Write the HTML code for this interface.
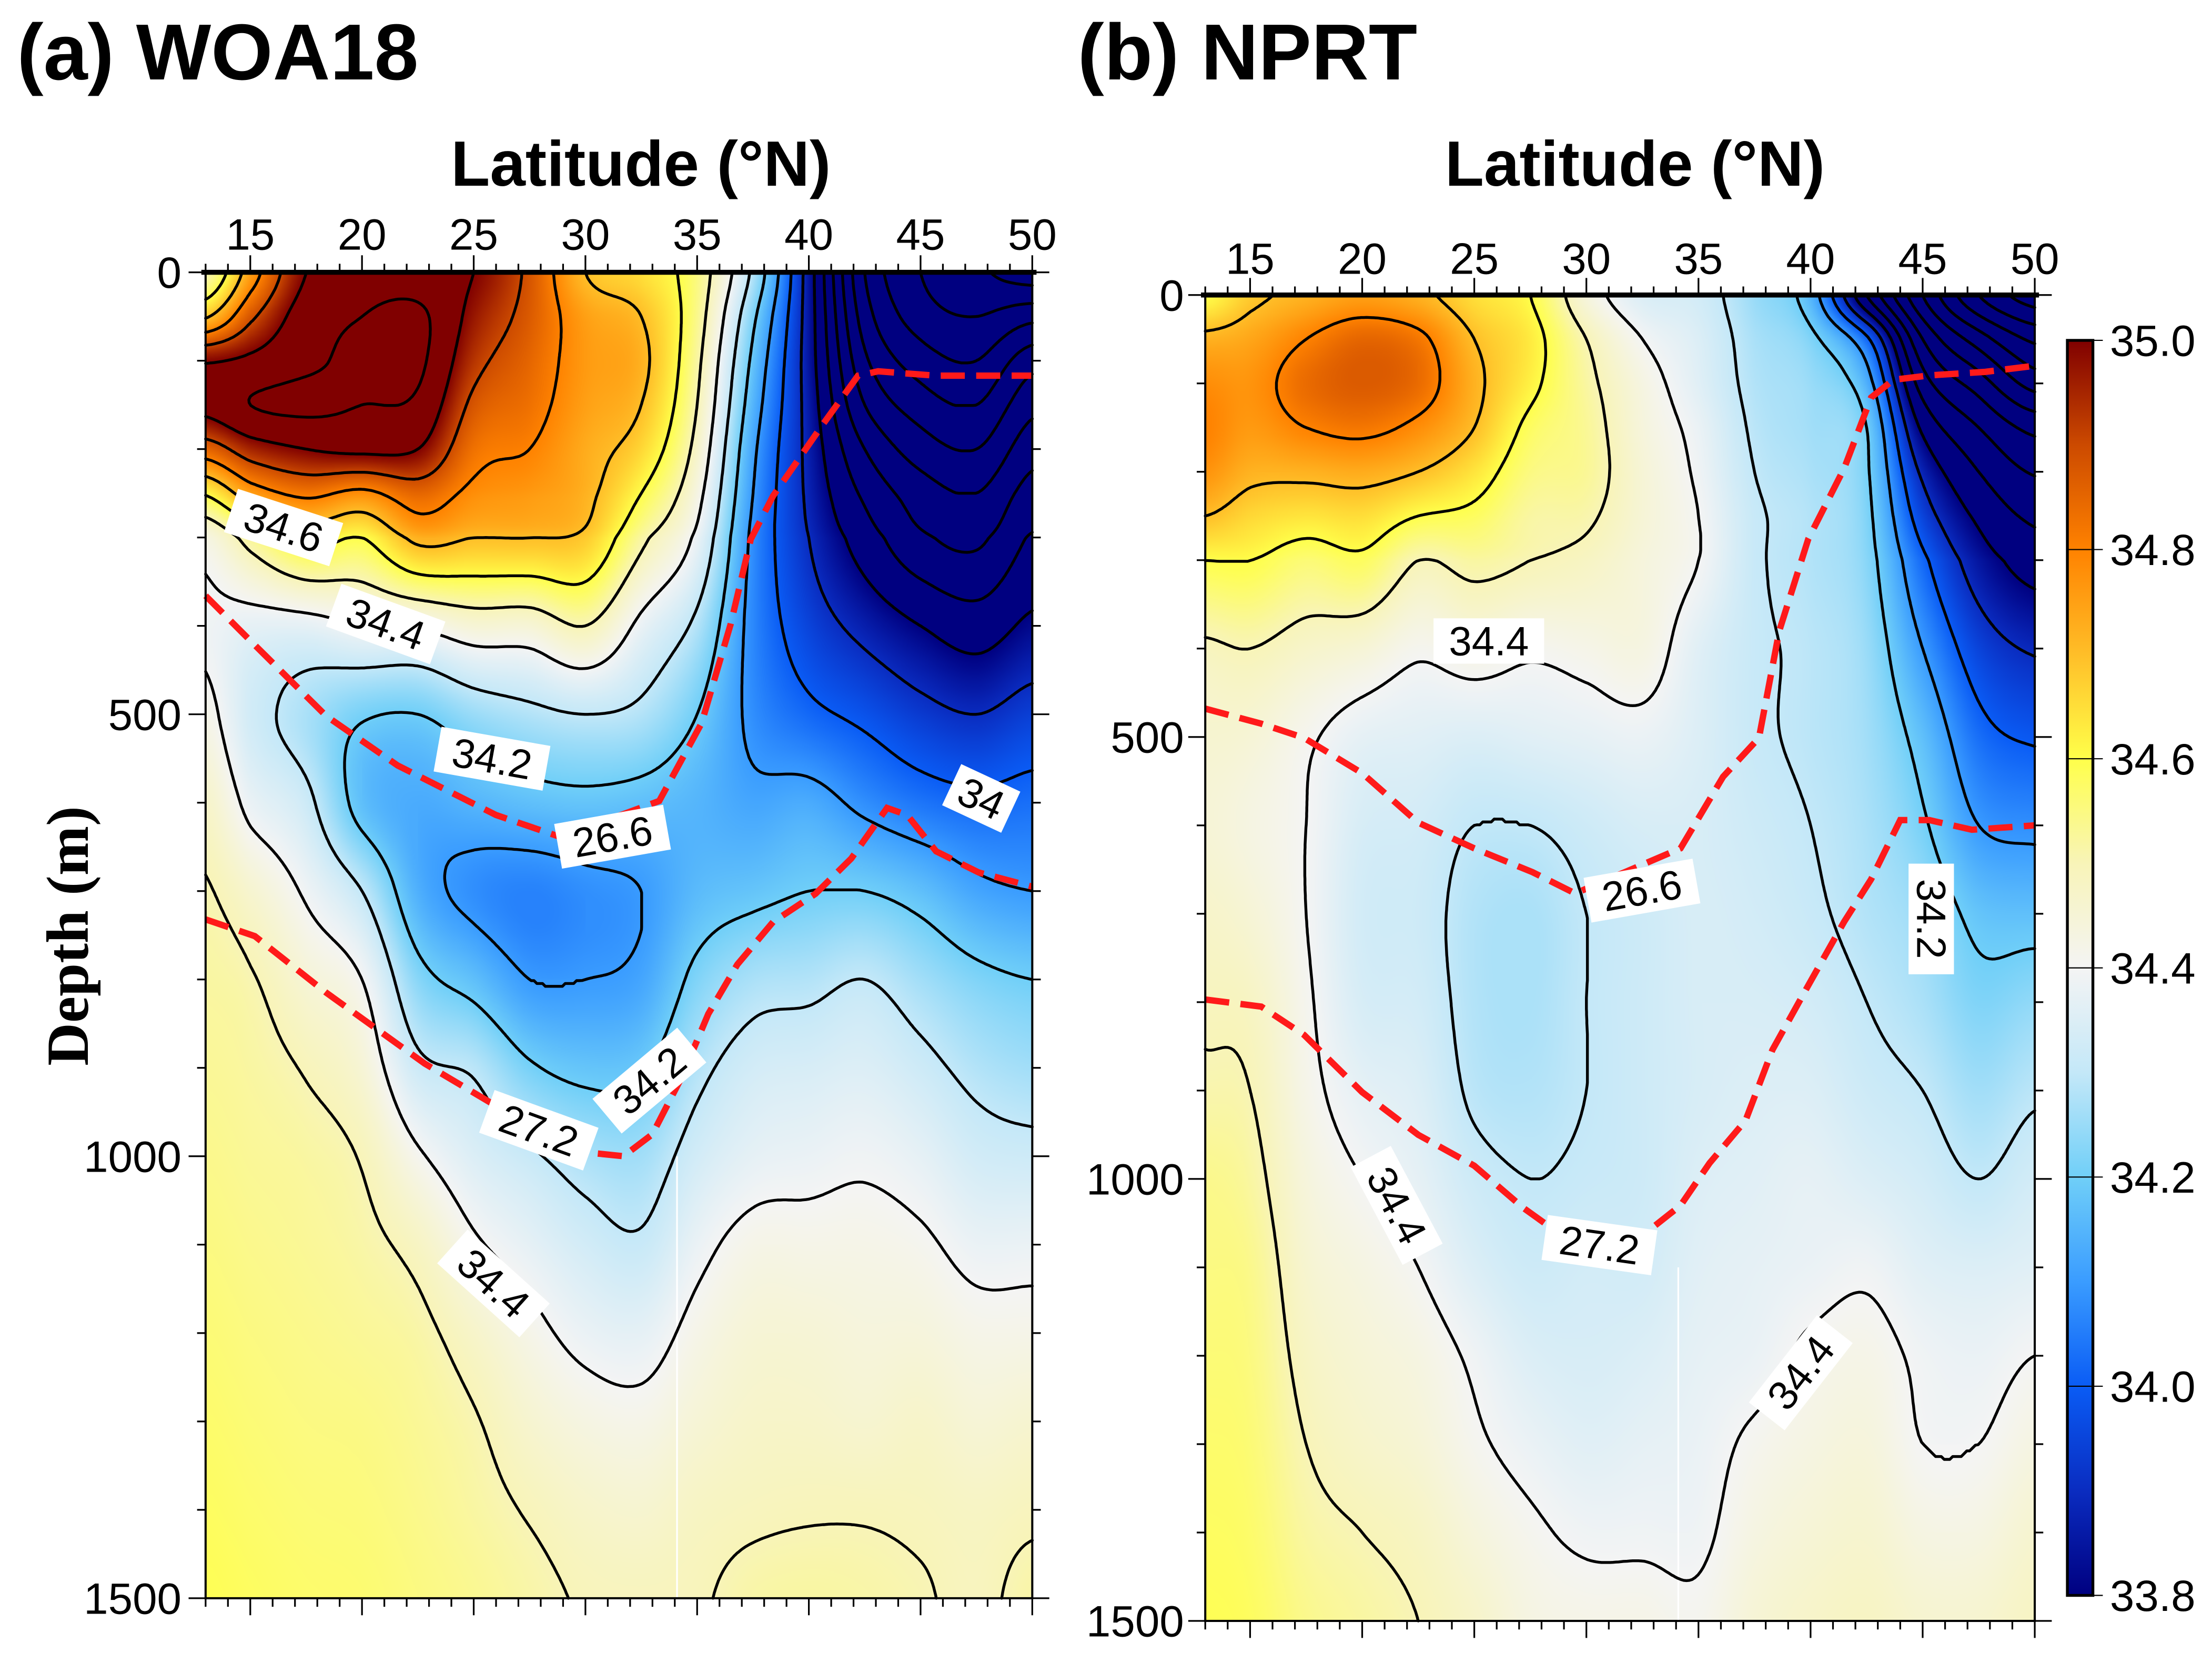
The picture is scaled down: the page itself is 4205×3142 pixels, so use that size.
<!DOCTYPE html>
<html><head><meta charset="utf-8">
<style>
html,body{margin:0;padding:0;background:#fff;}
#root{position:relative;width:4205px;height:3142px;background:#fff;overflow:hidden;}
canvas{position:absolute;image-rendering:auto;}
svg{position:absolute;left:0;top:0;}
text{font-family:"Liberation Sans",Arial,sans-serif;}
</style></head>
<body>
<div id="root">
<canvas id="cvA"></canvas>
<canvas id="cvB"></canvas>
<svg id="svg" width="4205" height="3142" viewBox="0 0 1560 1165.6">
<defs>
<linearGradient id="cbgrad" x1="0" y1="1" x2="0" y2="0"></linearGradient>
</defs>
<g id="gA"></g>
<g id="gB"></g>
<g id="gCB"></g>
<text x="12" y="56" font-size="56" font-weight="bold">(a) WOA18</text>
<text x="760" y="56" font-size="56" font-weight="bold">(b) NPRT</text>
<text x="452" y="131" font-size="45" font-weight="bold" text-anchor="middle">Latitude (°N)</text>
<text x="1153" y="131" font-size="45" font-weight="bold" text-anchor="middle">Latitude (°N)</text>
<text x="0" y="0" font-size="42" font-weight="bold" text-anchor="middle" transform="translate(62,660) rotate(-90)" style="font-family:'Liberation Serif',serif">Depth (m)</text>
</svg>
</div>
<script>
const K = 4205/1560;
const latsGrid=[13,15,17.5,20,22.5,25,27.5,30,32.5,35,37.5,40,42.5,45,47.5,50];
const depthGrid=[0,50,100,150,200,250,300,400,500,600,700,800,900,1000,1100,1200,1300,1400,1500];
// WOA18 salinity, one row per latitude, values at depthGrid
const salA=[
[34.5,34.69,34.99,35.03,34.85,34.61,34.43,34.39,34.42,34.47,34.505,34.52,34.53,34.54,34.55,34.56,34.57,34.58,34.59],
[34.75,34.88,35.02,35.1,34.95,34.75,34.53,34.37,34.33,34.38,34.46,34.505,34.52,34.53,34.54,34.55,34.56,34.57,34.58],
[35.0,35.05,35.08,35.12,35.0,34.82,34.63,34.37,34.27,34.32,34.39,34.45,34.495,34.52,34.53,34.54,34.55,34.56,34.57],
[35.05,35.1,35.12,35.1,35.02,34.78,34.6,34.4,34.21,34.17,34.3,34.4,34.45,34.495,34.515,34.53,34.545,34.555,34.565],
[35.05,35.12,35.12,35.08,35.0,34.85,34.72,34.41,34.2,34.13,34.14,34.23,34.32,34.41,34.48,34.515,34.53,34.54,34.55],
[35.0,34.97,34.93,34.88,34.83,34.78,34.7,34.45,34.25,34.15,34.08,34.17,34.29,34.35,34.41,34.47,34.505,34.52,34.535],
[34.88,34.87,34.85,34.83,34.8,34.76,34.7,34.45,34.28,34.17,34.06,34.1,34.21,34.31,34.37,34.42,34.46,34.495,34.515],
[34.7,34.75,34.76,34.75,34.73,34.72,34.68,34.5,34.3,34.18,34.08,34.1,34.18,34.27,34.33,34.38,34.43,34.47,34.495],
[34.65,34.7,34.72,34.7,34.66,34.6,34.52,34.38,34.28,34.17,34.1,34.12,34.19,34.26,34.31,34.37,34.42,34.46,34.49],
[34.55,34.54,34.52,34.5,34.47,34.43,34.38,34.28,34.2,34.15,34.16,34.22,34.28,34.33,34.38,34.42,34.45,34.48,34.495],
[34.28,34.22,34.18,34.15,34.12,34.1,34.08,34.07,34.08,34.12,34.18,34.27,34.33,34.37,34.42,34.45,34.47,34.49,34.515],
[33.85,33.85,33.85,33.86,33.87,33.88,33.9,33.95,34.02,34.13,34.2,34.28,34.34,34.38,34.42,34.45,34.47,34.495,34.52],
[33.3,33.35,33.42,33.5,33.6,33.68,33.75,33.87,33.98,34.08,34.2,34.3,34.35,34.39,34.42,34.44,34.46,34.495,34.515],
[33.1,33.15,33.25,33.35,33.45,33.55,33.62,33.8,33.93,34.04,34.17,34.26,34.32,34.37,34.41,34.44,34.47,34.49,34.505],
[33.02,33.1,33.2,33.3,33.4,33.5,33.58,33.75,33.9,34.02,34.12,34.22,34.28,34.33,34.38,34.42,34.45,34.48,34.49],
[32.95,33.17,33.36,33.47,33.56,33.64,33.71,33.82,33.94,34.03,34.1,34.2,34.26,34.32,34.38,34.42,34.46,34.49,34.515]
];
// NPRT salinity
const salB=[
[34.6,34.72,34.78,34.8,34.77,34.7,34.6,34.49,34.46,34.45,34.47,34.49,34.51,34.54,34.55,34.56,34.57,34.58,34.59],
[34.68,34.74,34.77,34.76,34.72,34.66,34.6,34.5,34.45,34.43,34.45,34.48,34.5,34.52,34.54,34.55,34.56,34.57,34.58],
[34.72,34.8,34.84,34.8,34.72,34.64,34.56,34.47,34.41,34.4,34.4,34.41,34.42,34.44,34.46,34.48,34.5,34.52,34.54],
[34.75,34.85,34.87,34.82,34.73,34.65,34.58,34.45,34.37,34.34,34.33,34.34,34.37,34.4,34.43,34.45,34.47,34.5,34.52],
[34.72,34.82,34.84,34.78,34.7,34.6,34.5,34.41,34.36,34.33,34.32,34.33,34.35,34.37,34.4,34.43,34.45,34.48,34.5],
[34.65,34.7,34.72,34.7,34.64,34.58,34.52,34.43,34.35,34.3,34.28,34.28,34.29,34.32,34.35,34.39,34.41,34.44,34.47],
[34.6,34.63,34.62,34.58,34.55,34.52,34.5,34.41,34.36,34.3,34.27,34.27,34.28,34.3,34.32,34.35,34.38,34.41,34.43],
[34.44,34.5,34.52,34.53,34.53,34.51,34.48,34.42,34.37,34.32,34.3,34.3,34.3,34.31,34.33,34.34,34.36,34.39,34.42],
[34.35,34.4,34.43,34.44,34.45,34.45,34.44,34.43,34.38,34.34,34.32,34.32,34.32,34.32,34.33,34.35,34.37,34.39,34.42],
[34.33,34.35,34.36,34.38,34.39,34.4,34.4,34.36,34.35,34.34,34.34,34.34,34.34,34.35,34.36,34.37,34.38,34.39,34.41],
[34.25,34.27,34.28,34.29,34.3,34.31,34.31,34.31,34.31,34.32,34.33,34.34,34.35,34.36,34.37,34.38,34.41,34.43,34.45],
[34.15,34.22,34.25,34.26,34.27,34.28,34.28,34.29,34.29,34.3,34.31,34.33,34.35,34.37,34.38,34.41,34.43,34.45,34.47],
[33.7,34.02,34.14,34.2,34.21,34.22,34.23,34.25,34.26,34.27,34.28,34.3,34.32,34.35,34.39,34.42,34.44,34.46,34.48],
[33.3,33.5,33.65,33.78,33.88,33.95,34.02,34.1,34.17,34.21,34.25,34.27,34.3,34.33,34.36,34.39,34.4,34.43,34.46],
[33.0,33.25,33.45,33.6,33.7,33.78,33.85,33.95,34.03,34.1,34.18,34.22,34.26,34.3,34.35,34.38,34.4,34.43,34.46],
[32.85,33.08,33.26,33.47,33.59,33.68,33.76,33.89,33.99,34.08,34.17,34.24,34.29,34.33,34.36,34.4,34.43,34.46,34.48]
];
// isopycnals (lat, depth)
const isoA266Lat=[13.0,14.9,18.4,21.6,26.0,28.9,33.3,35.2,36.5,37.4,38.4,40.6,42.2,43.1,45.7,50.0];
const isoA266Dep=[366,414,502,558,614,639,598,510,398,302,253,173,117,112,117,117];
const isoA272Lat=[13.0,15.2,18.4,22.8,26.0,29.8,31.7,33.0,34.3,35.5,36.8,38.4,40.3,41.9,43.5,44.4,45.7,47.6,50.0];
const isoA272Dep=[732,751,815,895,943,995,1000,975,911,839,783,735,703,663,606,614,655,679,695];
const isoB266Lat=[13.0,15.5,17.4,20.0,22.5,25.0,27.6,29.5,34.2,36.1,37.7,38.6,39.9,41.5,42.7,43.7,45.3,47.8,50.0];
const isoB266Dep=[468,485,501,541,597,626,653,677,626,545,501,380,276,196,116,96,91,87,80];
const isoB272Lat=[13,15.5,17.4,20.0,22.5,25.0,27.2,28.8,32.6,34.2,35.5,37.1,38.3,39.9,41.5,42.7,44.0,45.3,47.2,50.0];
const isoB272Dep=[797,805,837,902,950,985,1033,1062,1062,1030,982,934,854,781,709,661,594,594,605,600];
const latTicks=[15,20,25,30,35,40,45,50];
const depthTicks=[0,500,1000,1500];
const cbTicks=[35.0,34.8,34.6,34.4,34.2,34.0,33.8];
const cbLabels=['35.0','34.8','34.6','34.4','34.2','34.0','33.8'];
const cmapVals=[33.8,33.9,34.0,34.1,34.2,34.3,34.4,34.5,34.6,34.7,34.8,34.9,35.0];
const cmapCols=['#000080','#0a2cc0','#0a5cf5','#3a9cff','#70cff8','#c4e8f8','#f4f4f4','#f8f4b8','#ffff4a','#ffbe28','#ff8200','#cc4a00','#800000'];

const NS='http://www.w3.org/2000/svg';
function mk(tag,attrs,parent){const e=document.createElementNS(NS,tag);for(const k in attrs)e.setAttribute(k,attrs[k]);parent.appendChild(e);return e;}
function hex(c){return [parseInt(c.slice(1,3),16),parseInt(c.slice(3,5),16),parseInt(c.slice(5,7),16)];}
const cmapRGB=cmapCols.map(hex);
function color(v){
  if(v<=cmapVals[0])return cmapRGB[0];
  const n=cmapVals.length;
  if(v>=cmapVals[n-1])return cmapRGB[n-1];
  for(let i=0;i<n-1;i++){if(v<=cmapVals[i+1]){const t=(v-cmapVals[i])/(cmapVals[i+1]-cmapVals[i]);const a=cmapRGB[i],b=cmapRGB[i+1];return [a[0]+(b[0]-a[0])*t,a[1]+(b[1]-a[1])*t,a[2]+(b[2]-a[2])*t];}}
}
function fracIdx(arr,v){if(v<=arr[0])return 0;for(let i=0;i<arr.length-1;i++){if(v<=arr[i+1])return i+(v-arr[i])/(arr[i+1]-arr[i]);}return arr.length-1;}
function cr(p0,p1,p2,p3,t){return 0.5*(2*p1+(-p0+p2)*t+(2*p0-5*p1+4*p2-p3)*t*t+(-p0+3*p1-3*p2+p3)*t*t*t);}
function field(g,lat,dep){
  const NI=latsGrid.length,NJ=depthGrid.length;
  const fi=fracIdx(latsGrid,lat),fj=fracIdx(depthGrid,dep);
  const i=Math.min(Math.floor(fi),NI-2),j=Math.min(Math.floor(fj),NJ-2);
  const tx=fi-i,ty=fj-j;
  const G=(a,b)=>g[Math.max(0,Math.min(NI-1,a))][Math.max(0,Math.min(NJ-1,b))];
  const r=[];
  for(let k=-1;k<=2;k++)r.push(cr(G(i-1,j+k),G(i,j+k),G(i+1,j+k),G(i+2,j+k),tx));
  let v=cr(r[0],r[1],r[2],r[3],ty);
  const c=[G(i,j),G(i+1,j),G(i,j+1),G(i+1,j+1)];
  const mn=Math.min(...c),mx=Math.max(...c);
  return Math.max(mn,Math.min(mx,v));
}
const panels=[
 {id:'A',sal:salA,x0:145,x1:728,y0:192,y1:1127,cv:'cvA',g:'gA',
  iso:[[isoA266Lat,isoA266Dep],[isoA272Lat,isoA272Dep]],
  labels:[['34.6',200,372,18],['34.4',272,440,20],['34.2',347,535,10],['26.6',432,590,-10],['34',692,563,25],['34.2',458,762,-40],['27.2',380,797,20],['34.4',348,905,42]],
  tickY:176,leftX:128,white:[34.1,1000]},
 {id:'B',sal:salB,x0:850,x1:1435,y0:208,y1:1143,cv:'cvB',g:'gB',
  iso:[[isoB266Lat,isoB266Dep],[isoB272Lat,isoB272Dep]],
  labels:[['34.4',1050,452,0],['26.6',1158,628,-10],['34.2',1362,648,90],['34.4',985,850,62],['27.2',1128,878,8],['34.4',1270,968,-52]],
  tickY:193,leftX:835,white:[34.1,1100]}
];
panels.forEach(p=>{
  const xs=lat=>p.x0+(lat-13)/37*(p.x1-p.x0);
  const ys=d=>p.y0+d/1500*(p.y1-p.y0);
  const cv=document.getElementById(p.cv);
  const W=Math.round((p.x1-p.x0)*K/2),H=Math.round((p.y1-p.y0)*K/2);
  cv.width=W;cv.height=H;
  cv.style.left=(p.x0*K)+'px';cv.style.top=(p.y0*K)+'px';
  cv.style.width=((p.x1-p.x0)*K)+'px';cv.style.height=((p.y1-p.y0)*K)+'px';
  const ctx=cv.getContext('2d');const img=ctx.createImageData(W,H);
  for(let py=0;py<H;py++){const dep=(py+0.5)/H*1500;
    for(let px=0;px<W;px++){const lat=13+(px+0.5)/W*37;const c=color(field(p.sal,lat,dep));const o=(py*W+px)*4;
      img.data[o]=c[0];img.data[o+1]=c[1];img.data[o+2]=c[2];img.data[o+3]=255;}}
  ctx.putImageData(img,0,0);
  const g=document.getElementById(p.g);
  const wl=mk('line',{x1:xs(p.white[0]),x2:xs(p.white[0]),y1:ys(p.white[1]),y2:p.y1,stroke:'#ffffff','stroke-width':1.2},g);
  
  
  const step=2;const nx=Math.round((p.x1-p.x0)/step)+1,ny=Math.round((p.y1-p.y0)/step)+1;
  const dx=(p.x1-p.x0)/(nx-1),dy=(p.y1-p.y0)/(ny-1);
  const V=[];for(let j=0;j<ny;j++){const row=[];const dep=j/(ny-1)*1500;for(let i=0;i<nx;i++)row.push(field(p.sal,13+i/(nx-1)*37,dep));V.push(row);}
  let d='';
  for(let k=0;k<=26;k++){const lv=(328+k)/10;
    for(let j=0;j<ny-1;j++)for(let i=0;i<nx-1;i++){
      const a=V[j][i],b=V[j][i+1],c=V[j+1][i+1],e=V[j+1][i];
      const idx=(a>lv?8:0)|(b>lv?4:0)|(c>lv?2:0)|(e>lv?1:0);
      if(idx===0||idx===15)continue;
      const X=p.x0+i*dx,Y=p.y0+j*dy;
      const T=[X+dx*(lv-a)/(b-a),Y],R=[X+dx,Y+dy*(lv-b)/(c-b)],B=[X+dx*(lv-e)/(c-e),Y+dy],L=[X,Y+dy*(lv-a)/(e-a)];
      const seg=(P,Q)=>{d+='M'+P[0].toFixed(1)+' '+P[1].toFixed(1)+'L'+Q[0].toFixed(1)+' '+Q[1].toFixed(1);};
      switch(idx){case 1:case 14:seg(L,B);break;case 2:case 13:seg(B,R);break;case 3:case 12:seg(L,R);break;
        case 4:case 11:seg(T,R);break;case 5:seg(L,T);seg(B,R);break;case 6:case 9:seg(T,B);break;
        case 7:case 8:seg(L,T);break;case 10:seg(T,R);seg(L,B);break;}
    }}
  const cp=mk('path',{d:d,fill:'none',stroke:'#000','stroke-width':2.0,'stroke-linecap':'round'},g);
  
  
  p.iso.forEach((s,n)=>{
    const pts=s[0].map((lat,m)=>xs(lat).toFixed(1)+','+ys(s[1][m]).toFixed(1)).join(' ');
    const pl=mk('polyline',{points:pts,fill:'none',stroke:'#ff1a1a','stroke-width':4.5,'stroke-dasharray':'17 8'},g);
    
    
  });
  p.labels.forEach(L=>{
    const lg=mk('g',{transform:`translate(${L[1]},${L[2]}) rotate(${L[3]})`},g);
    
    
    const w=L[0].length*16+14;
    mk('rect',{x:-w/2,y:-16,width:w,height:32,fill:'#fff'},lg);
    const t=mk('text',{x:0,y:10,'font-size':29,'text-anchor':'middle'},lg);t.textContent=L[0];
  });
  const fr=mk('rect',{x:p.x0,y:p.y0,width:p.x1-p.x0,height:p.y1-p.y0,fill:'none',stroke:'#000','stroke-width':1.5},g);
  
  
  mk('line',{x1:p.x0-3,x2:p.x1+3,y1:p.y0,y2:p.y0,stroke:'#000','stroke-width':3.5},g);
  let tk='';
  for(let lat=13;lat<=50;lat++){const x=xs(lat);const L=(lat%5===0)?12:6;tk+=`M${x} ${p.y0}V${p.y0-L}M${x} ${p.y1}V${p.y1+L}`;}
  for(let dep=0;dep<=1500;dep+=100){const y=ys(dep);const L=(dep%500===0)?12:6;tk+=`M${p.x0} ${y}H${p.x0-L}M${p.x1} ${y}H${p.x1+L}`;}
  const tp=mk('path',{d:tk,stroke:'#000','stroke-width':1.2,fill:'none'},g);
  
  
  latTicks.forEach(lat=>{const t=mk('text',{x:xs(lat),y:p.tickY,'font-size':31,'text-anchor':'middle'},g);t.textContent=String(lat);
    
    });
  depthTicks.forEach(dep=>{const t=mk('text',{x:p.leftX,y:ys(dep)+11,'font-size':31,'text-anchor':'end'},g);t.textContent=String(dep);
    
    });
});
const grad=document.getElementById('cbgrad');
cmapVals.forEach((v,i)=>{mk('stop',{offset:((v-33.8)/1.2*100)+'%','stop-color':cmapCols[i]},grad);});
const gcb=document.getElementById('gCB');
const cbY=v=>240+(35.0-v)/1.2*885;
const cbr=mk('rect',{x:1458,y:240,width:18,height:885,fill:'url(#cbgrad)',stroke:'#000','stroke-width':2},gcb);


cbTicks.forEach((v,i)=>{
  mk('line',{x1:1458,x2:1483,y1:cbY(v),y2:cbY(v),stroke:'#000','stroke-width':0.8},gcb);
  const t=mk('text',{x:1488,y:cbY(v)+11,'font-size':31},gcb);t.textContent=cbLabels[i];
  
  
});
</script>
</body></html>
